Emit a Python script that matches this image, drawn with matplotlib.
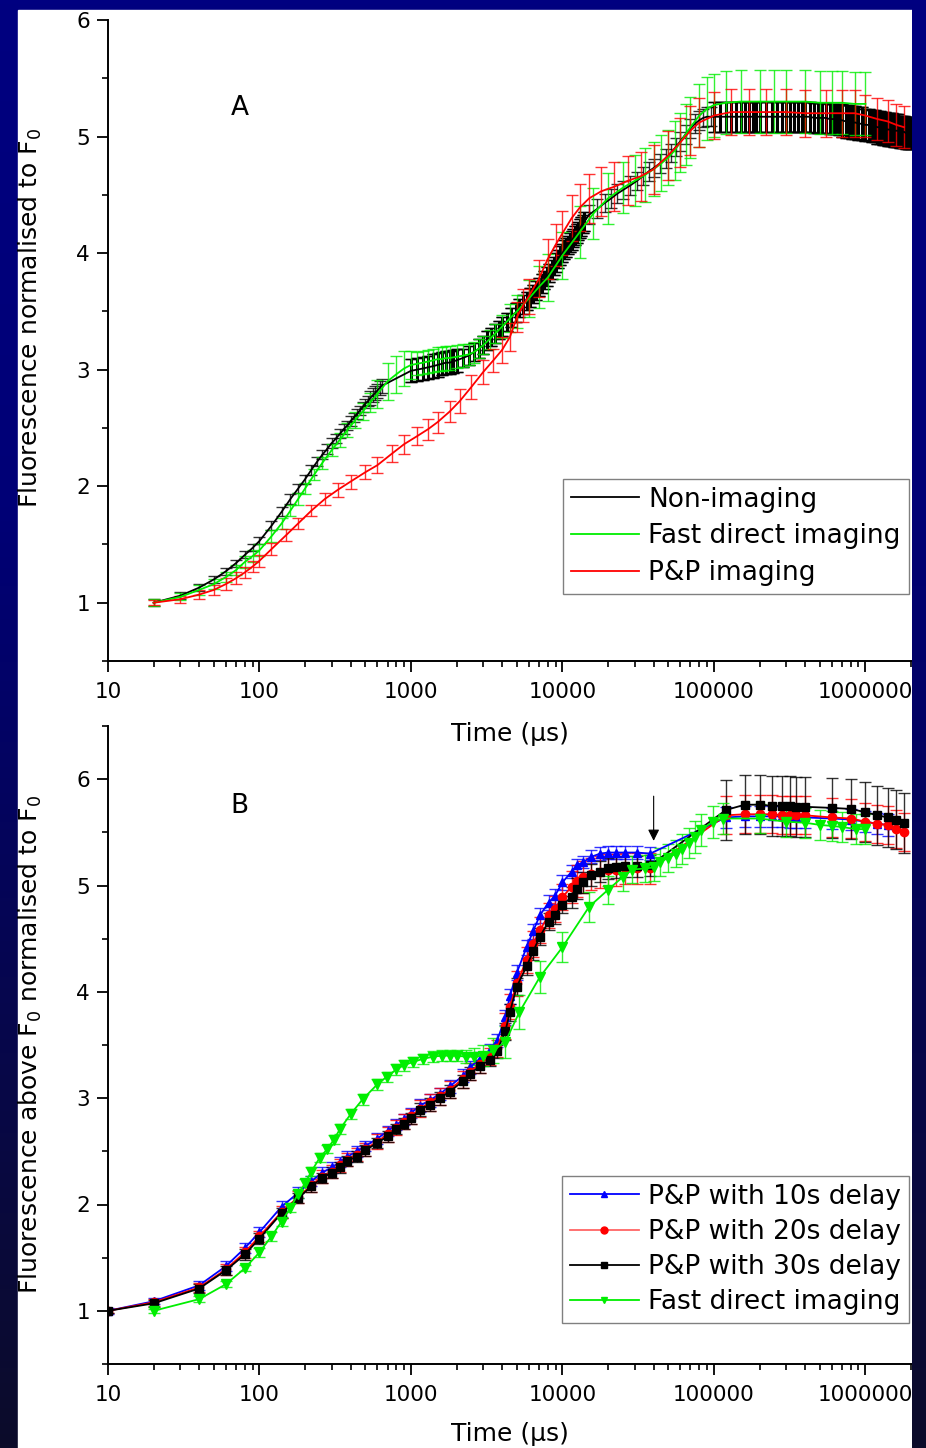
"""
Fluorescence induction curves: A) three acquisition methods, B) P&P delays
"""

import numpy as np
import matplotlib
matplotlib.use('Agg')
from matplotlib import pyplot as plt
from matplotlib.ticker import FixedLocator, LogLocator, NullFormatter, FuncFormatter, MultipleLocator
from matplotlib.patches import Rectangle
from matplotlib.lines import Line2D

plt.rcParams['font.family'] = ['DejaVu Sans']
plt.rcParams['mathtext.fontset'] = 'dejavusans'

x_ticks = [10, 100, 1000, 10000, 100000, 1000000]

# ---------------- panel A data ----------------
t_nonimg = [20, 30, 40, 50, 60, 70, 80, 90, 100, 120, 140, 160, 180, 200, 220, 240, 260, 280,
            300, 320, 340, 360, 380, 400, 420, 440, 460, 480, 500, 520, 540, 560, 580, 600, 620, 640,
            1000, 1100, 1200, 1300, 1400, 1500, 1600, 1700, 1800, 1900, 2000, 2200, 2400, 2600, 2800,
            3000, 3200, 3400, 3600, 3800, 4000, 4300, 4600, 4900, 5200, 5500, 5800, 6100, 6400, 6700,
            7000, 7300, 7600, 7900, 8200, 8500, 8800, 9100, 9400, 9700, 10000, 10300, 10600, 10900,
            11200, 11500, 11800, 12100, 12400, 12700, 13000, 13300, 13600, 13900,
            15000, 17000, 19000, 21000, 23000, 25000, 28000, 31000, 34000, 37000, 40000, 44000, 48000,
            52000, 56000, 60000, 65000, 70000, 75000, 80000, 85000, 90000, 95000,
            100000, 110000, 120000, 130000, 140000, 150000, 160000, 170000, 180000, 190000, 200000,
            220000, 240000, 260000, 280000, 300000, 320000, 340000, 360000, 380000, 400000, 430000,
            460000, 490000, 520000, 550000, 580000, 610000, 640000, 670000, 700000, 740000, 780000,
            820000, 860000, 900000, 950000, 1000000, 1050000, 1100000, 1150000, 1200000, 1250000,
            1300000, 1350000, 1400000, 1450000, 1500000, 1550000, 1600000, 1650000, 1700000, 1750000,
            1800000, 1850000, 1900000, 1950000, 2000000]
y_nonimg = [1.00, 1.06, 1.13, 1.20, 1.27, 1.34, 1.41, 1.47, 1.53, 1.66, 1.78, 1.89, 1.98, 2.06, 2.14,
            2.21, 2.27, 2.32, 2.37, 2.41, 2.45, 2.49, 2.52, 2.56, 2.59, 2.62, 2.65, 2.68, 2.71, 2.73,
            2.76, 2.78, 2.80, 2.82, 2.84, 2.86,
            2.99, 3.00, 3.01, 3.02, 3.03, 3.04, 3.05, 3.06, 3.06, 3.07, 3.08, 3.10, 3.12, 3.15, 3.18,
            3.21, 3.25, 3.28, 3.31, 3.34, 3.37, 3.41, 3.45, 3.49, 3.53, 3.56, 3.59, 3.62, 3.65, 3.68,
            3.71, 3.74, 3.77, 3.80, 3.83, 3.86, 3.89, 3.92, 3.95, 3.98, 4.00, 4.03, 4.05, 4.07, 4.09,
            4.11, 4.13, 4.15, 4.17, 4.19, 4.21, 4.23, 4.25, 4.27,
            4.33, 4.38, 4.43, 4.47, 4.51, 4.54, 4.58, 4.62, 4.66, 4.70, 4.73, 4.77, 4.81, 4.86, 4.91,
            4.96, 5.02, 5.07, 5.11, 5.14, 5.16, 5.17, 5.17,
            5.17, 5.17, 5.17, 5.17, 5.17, 5.17, 5.17, 5.17, 5.17, 5.17, 5.17, 5.17, 5.17, 5.17, 5.17,
            5.17, 5.17, 5.17, 5.17, 5.17, 5.17, 5.17, 5.16, 5.16, 5.16, 5.16, 5.15, 5.15, 5.15, 5.14,
            5.14, 5.13, 5.13, 5.12, 5.12, 5.11, 5.11, 5.10, 5.10, 5.09, 5.09, 5.08, 5.08, 5.07, 5.07,
            5.06, 5.06, 5.06, 5.05, 5.05, 5.05, 5.04, 5.04, 5.04, 5.03, 5.03, 5.03, 5.03]
e_nonimg = [0.03] * 9 + [0.04] * 21 + [0.06] * 6 + [0.10] * 11 + [0.08] * 43 + [0.08] * 23 \
    + [0.13] * 30 + [0.14] * 28

t_fast = [20, 30, 40, 50, 60, 70, 80, 90, 100, 120, 140, 160, 180, 200, 230, 260, 300, 340, 380, 430,
          480, 540, 600, 700, 800, 900, 1000, 1100, 1200, 1300, 1400, 1500, 1600, 1700, 1800, 2000,
          2200, 2400, 2600, 2800, 3000, 3300, 3600, 4000, 4500, 5000, 6000, 7000, 8000, 10000, 13000,
          16000, 20000, 25000, 30000, 35000, 40000, 45000, 50000, 55000, 60000, 65000, 70000, 80000,
          90000, 100000, 120000, 150000, 200000, 250000, 300000, 400000, 500000, 600000, 700000,
          850000, 1000000]
y_fast = [1.00, 1.05, 1.11, 1.16, 1.22, 1.28, 1.35, 1.40, 1.45,
          1.57, 1.68, 1.79, 1.89, 1.98,
          2.10, 2.20, 2.31, 2.40, 2.48, 2.57, 2.64, 2.72, 2.79,
          2.90, 2.96, 3.01, 3.04,
          3.05, 3.06, 3.07, 3.08, 3.09, 3.09, 3.10, 3.10,
          3.11, 3.12, 3.13, 3.15, 3.18, 3.21,
          3.26, 3.31, 3.37, 3.44, 3.50,
          3.61, 3.71, 3.79, 3.98, 4.18, 4.34, 4.47,
          4.56, 4.62, 4.67, 4.72, 4.77, 4.82, 4.88, 4.95, 5.02,
          5.08, 5.18, 5.24, 5.27,
          5.29, 5.30, 5.30, 5.30, 5.30,
          5.30, 5.29, 5.29, 5.29, 5.28, 5.28]
e_fast = [0.03, 0.03, 0.04, 0.04, 0.04, 0.04, 0.05, 0.05, 0.05,
          0.05, 0.05, 0.05, 0.05, 0.05,
          0.05, 0.05, 0.05, 0.06, 0.06, 0.07, 0.07, 0.08, 0.12,
          0.16, 0.16, 0.15, 0.12,
          0.10, 0.10, 0.10, 0.10, 0.10, 0.10, 0.10, 0.10,
          0.10, 0.10, 0.09, 0.09, 0.08, 0.08,
          0.08, 0.08, 0.10, 0.12, 0.14,
          0.16, 0.18, 0.20, 0.20, 0.22, 0.22, 0.22,
          0.22, 0.22, 0.23, 0.23, 0.24, 0.24, 0.25, 0.25, 0.26,
          0.26, 0.27, 0.27, 0.27,
          0.27, 0.27, 0.27, 0.27, 0.27,
          0.27, 0.27, 0.27, 0.27, 0.27, 0.27]

t_pp = [20, 30, 40, 50, 60, 70, 80, 90, 100, 120, 150, 180, 220, 270, 330, 400, 500, 600, 750, 900,
        1100, 1300, 1500, 1800, 2100, 2500, 3000, 3500, 4000, 4500, 5000, 5500, 6000, 7000, 8000,
        9000, 10000, 11500, 13000, 15000, 18000, 22000, 27000, 33000, 40000, 50000, 60000, 70000,
        80000, 100000, 130000, 170000, 220000, 300000, 400000, 550000, 700000, 850000, 1000000,
        1200000, 1400000, 1600000, 1800000]
y_pp = [1.00, 1.03, 1.07, 1.11, 1.16, 1.21, 1.26, 1.31, 1.36,
        1.46, 1.58, 1.68, 1.79, 1.89, 1.97, 2.04, 2.12, 2.18,
        2.28, 2.36, 2.43, 2.49, 2.55, 2.64, 2.73, 2.85, 2.98,
        3.08, 3.17, 3.28, 3.45, 3.55, 3.63, 3.78, 3.95, 4.07, 4.17,
        4.30, 4.39, 4.47, 4.53, 4.57, 4.62, 4.66, 4.72,
        4.84, 4.95, 5.05, 5.12, 5.18,
        5.21, 5.21, 5.21, 5.21, 5.20, 5.20, 5.20, 5.20,
        5.18, 5.15, 5.13, 5.10, 5.08]
e_pp = [0.02, 0.03, 0.04, 0.04, 0.05, 0.05, 0.05, 0.05, 0.05,
        0.05, 0.05, 0.05, 0.05, 0.05, 0.06, 0.06, 0.06, 0.07,
        0.07, 0.08, 0.08, 0.09, 0.09, 0.09, 0.10, 0.10, 0.10,
        0.10, 0.11, 0.12, 0.13, 0.14, 0.15, 0.16, 0.17, 0.18, 0.19,
        0.20, 0.20, 0.21, 0.21, 0.21, 0.21, 0.21, 0.21,
        0.21, 0.21, 0.21, 0.21, 0.20,
        0.20, 0.20, 0.20, 0.20, 0.20, 0.20, 0.20, 0.20,
        0.18, 0.18, 0.18, 0.18, 0.18]

# ---------------- panel B data ----------------
t_delay = [10, 20, 40, 60, 80, 100, 140, 180, 220, 260, 300, 340, 380, 440, 500, 600, 700, 800, 900,
           1000, 1150, 1330, 1550, 1800, 2200, 2450, 2850, 3300, 3700, 4200, 4500, 5000, 5800, 6400,
           7100, 8100, 8900, 10000, 11500, 12500, 13700, 15500, 17700, 20000, 22700, 26000, 31000,
           38000, 120000, 160000, 200000, 240000, 280000, 320000, 350000, 400000, 600000, 800000,
           1000000, 1200000, 1400000, 1600000, 1800000]
t_10s = [10, 20, 40, 60, 80, 100, 140, 180, 220, 260, 300, 340, 380, 440, 500, 600, 700, 800, 900,
         1000, 1150, 1330, 1550, 1800, 2200, 2450, 2850, 3300, 3700, 4200, 4500, 5000, 5800, 6400,
         7100, 8100, 8900, 10000, 11500, 12500, 13700, 15500, 17700, 20000, 22700, 26000, 31000,
         38000, 120000, 160000, 200000, 240000, 280000, 320000, 350000, 400000, 600000, 800000,
         1000000, 1200000, 1400000]
y_10s = [1.00, 1.09, 1.24, 1.42, 1.59, 1.74,
         1.98, 2.11, 2.22, 2.30, 2.35, 2.40, 2.45, 2.50, 2.55,
         2.62, 2.69, 2.75, 2.80, 2.86,
         2.93, 2.98, 3.04, 3.11, 3.21, 3.29, 3.37, 3.45, 3.54,
         3.76, 3.96, 4.18, 4.42, 4.57, 4.72, 4.84, 4.90, 5.03,
         5.13, 5.19, 5.22, 5.27, 5.30, 5.31, 5.31, 5.31, 5.31, 5.30,
         5.64, 5.65, 5.65, 5.65, 5.65, 5.64, 5.64, 5.64, 5.63, 5.62, 5.60, 5.58, 5.57]
e_10s = [0.03, 0.03, 0.04, 0.05, 0.05, 0.05] + [0.05] * 14 + [0.06] * 9 + [0.07] * 9 \
    + [0.06] * 10 + [0.10] * 13
y_20s = [1.00, 1.08, 1.22, 1.39, 1.55, 1.70,
         1.93, 2.07, 2.18, 2.26, 2.31, 2.37, 2.42, 2.47, 2.52,
         2.59, 2.66, 2.72, 2.78, 2.83,
         2.90, 2.96, 3.02, 3.08, 3.18, 3.25, 3.32, 3.39, 3.47,
         3.68, 3.86, 4.08, 4.30, 4.45, 4.58, 4.72, 4.78, 4.89,
         4.99, 5.04, 5.08, 5.11, 5.13, 5.15, 5.15, 5.16, 5.16, 5.16,
         5.66, 5.67, 5.67, 5.67, 5.66, 5.66, 5.66, 5.66, 5.64, 5.63, 5.60, 5.58, 5.57, 5.53, 5.50]
e_20s = [0.02, 0.03, 0.04, 0.05, 0.05, 0.05] + [0.06] * 9 + [0.07] * 5 + [0.08] * 9 \
    + [0.12] * 9 + [0.15] * 10 + [0.18] * 15
y_30s = [1.00, 1.07, 1.21, 1.38, 1.53, 1.68,
         1.92, 2.06, 2.17, 2.25, 2.30, 2.35, 2.41, 2.45, 2.51,
         2.58, 2.64, 2.71, 2.76, 2.81,
         2.89, 2.94, 3.00, 3.06, 3.16, 3.23, 3.30, 3.36, 3.44,
         3.63, 3.81, 4.05, 4.24, 4.38, 4.52, 4.66, 4.72, 4.82,
         4.89, 4.97, 5.03, 5.10, 5.13, 5.16, 5.17, 5.18, 5.18, 5.19,
         5.71, 5.76, 5.76, 5.75, 5.75, 5.75, 5.74, 5.74, 5.73, 5.72, 5.69, 5.66, 5.64, 5.62, 5.59]
e_30s = [0.02, 0.03, 0.04, 0.04, 0.05, 0.05] + [0.05] * 14 + [0.06] * 9 + [0.08] * 9 \
    + [0.10] * 10 + [0.28] * 15

t_fast_b = [20, 40, 60, 80, 100, 120, 140, 160, 180, 200, 220, 250, 280, 310, 340, 400, 480, 600, 690,
            800, 900, 1030, 1200, 1400, 1600, 1800, 2000, 2300, 2600, 3000, 3500, 4200, 5200, 7100,
            10000, 15000, 20000, 25000, 29000, 35000, 40000, 44000, 50000, 56000, 62000, 68000, 75000,
            82000, 98000, 115000, 200000, 300000, 400000, 500000, 600000, 700000, 870000, 1000000]
y_fast_b = [1.00, 1.11, 1.25, 1.40, 1.55, 1.70, 1.84, 1.97, 2.10, 2.20, 2.31,
            2.44, 2.52, 2.61, 2.71, 2.85, 2.99, 3.13, 3.20, 3.27, 3.31, 3.34,
            3.37, 3.39, 3.40, 3.40, 3.40, 3.39, 3.39, 3.40, 3.45, 3.53, 3.81,
            4.14, 4.42, 4.80, 4.96, 5.08, 5.15, 5.16, 5.17, 5.22, 5.26,
            5.30, 5.34, 5.40, 5.46, 5.52, 5.60, 5.63,
            5.63, 5.60, 5.59, 5.57, 5.56, 5.55, 5.53, 5.53]
e_fast_b = [0.02, 0.03, 0.03, 0.03, 0.04, 0.04, 0.04, 0.04, 0.04, 0.04, 0.04,
            0.04, 0.04, 0.04, 0.05, 0.05, 0.05, 0.05, 0.05, 0.05, 0.05, 0.05,
            0.05, 0.05, 0.05, 0.05, 0.05, 0.06, 0.08, 0.10, 0.12, 0.15, 0.16,
            0.15, 0.14, 0.14, 0.13, 0.13, 0.13, 0.13, 0.13, 0.13, 0.13,
            0.13, 0.14, 0.14, 0.15, 0.15, 0.15, 0.15,
            0.14, 0.14, 0.14, 0.14, 0.14, 0.14, 0.14, 0.14]

arrow_t = 40000

W, H = 926, 1448
fig = plt.figure(figsize=(W / 100, H / 100), dpi=100)

# navy slide background with white panel
frac = np.linspace(0, 1, 400)
blue_c = np.interp(frac, [0, 0.35, 1], [128, 118, 42]) / 255
rg_c = np.interp(frac, [0, 0.35, 1], [0, 0, 12]) / 255
grad = np.stack([rg_c, rg_c, blue_c], axis=-1)[:, None, :]

bg = fig.add_axes([0, 0, 1, 1], zorder=-10)
bg.imshow(grad, aspect='auto', extent=[0, 1, 0, 1], origin='upper')
bg.add_patch(Rectangle((18 / W, 0), (912 - 18) / W, (H - 10) / H, color='white',
                       transform=bg.transAxes))
bg.set_xlim(0, 1)
bg.set_ylim(0, 1)
bg.axis('off')

strip = fig.add_axes([912 / W, 0, 1 - 912 / W, 1], zorder=10)
strip.imshow(grad, aspect='auto', extent=[0, 1, 0, 1], origin='upper')
strip.axis('off')

ax1 = fig.add_axes([108 / W, 1 - 661 / H, 804 / W, 641 / H])
ax2 = fig.add_axes([108 / W, 1 - 1364 / H, 804 / W, 638 / H])


def style(ax, ymax):
    ax.set_facecolor('none')
    ax.set_xscale('log')
    ax.set_xlim(10, 2.03e6)
    ax.set_ylim(0.5, ymax)
    for s in ['top', 'right']:
        ax.spines[s].set_visible(False)
    for s in ['left', 'bottom']:
        ax.spines[s].set_linewidth(1.4)
    ax.xaxis.set_major_locator(FixedLocator(x_ticks))
    ax.xaxis.set_major_formatter(FuncFormatter(lambda v, p: f'{v:.0f}'))
    ax.xaxis.set_minor_locator(LogLocator(base=10, subs=np.arange(2, 10), numticks=20))
    ax.xaxis.set_minor_formatter(NullFormatter())
    ax.yaxis.set_major_locator(MultipleLocator(1))
    ax.yaxis.set_minor_locator(MultipleLocator(0.5))
    ax.yaxis.set_major_formatter(FuncFormatter(lambda v, p: f'{v:.0f}'))
    ax.tick_params(which='major', length=8, width=1.3, labelsize=15.5)
    ax.tick_params(which='minor', length=4, width=1.2)
    ax.tick_params(axis='x', which='major', pad=7)
    ax.tick_params(axis='y', which='major', pad=5)
    ax.set_xlabel('Time (µs)', fontsize=18)


def ebar(ax, t, y, e, color, **kw):
    line, caps, bars = ax.errorbar(t, y, yerr=e, color=color, lw=1.3, elinewidth=1, capsize=4,
                                   capthick=1, **kw)
    for c in caps:
        c.set_alpha(0.8)
    for b in bars:
        b.set_alpha(0.8)
    return line


# --- Panel A ---
style(ax1, 6)
ebar(ax1, t_nonimg, y_nonimg, e_nonimg, 'black')
# densely sampled stretches read as a solid band
for a, b in [(36, 90), (113, len(t_nonimg))]:
    ax1.errorbar(t_nonimg[a:b], y_nonimg[a:b], yerr=e_nonimg[a:b], fmt='none', ecolor='black',
                 elinewidth=2.2, capsize=4, capthick=1)
ebar(ax1, t_fast, y_fast, e_fast, '#00ee00')
ebar(ax1, t_pp, y_pp, e_pp, '#ff0000')
ax1.set_ylabel('Fluorescence normalised to F$_0$', fontsize=18)
ax1.yaxis.set_label_coords(-0.08, 0.535)
ax1.xaxis.set_label_coords(0.5, -0.095)
ax1.text(0.164, 0.863, 'A', transform=ax1.transAxes, fontsize=19, ha='center', va='center')

h1 = [Line2D([], [], color='black', lw=1.3),
      Line2D([], [], color='#00ee00', lw=1.3),
      Line2D([], [], color='#ff0000', lw=1.3)]
leg1 = ax1.legend(h1, ['Non-imaging', 'Fast direct imaging', 'P&P imaging'],
                  loc='lower right', bbox_to_anchor=(0.996, 0.105), borderaxespad=0,
                  fontsize=19, fancybox=False, edgecolor='#808080', framealpha=1,
                  handlelength=2.6, handletextpad=0.35, labelspacing=0.4, borderpad=0.3)
leg1.get_frame().set_linewidth(1)

# --- Panel B ---
style(ax2, 6.5)
ebar(ax2, t_10s, y_10s, e_10s, '#0000ff', marker='^', ms=6)
ebar(ax2, t_delay, y_20s, e_20s, '#ff0000', marker='o', ms=6)
ebar(ax2, t_delay, y_30s, e_30s, 'black', marker='s', ms=6)
ebar(ax2, t_fast_b, y_fast_b, e_fast_b, '#00ee00', marker='v', ms=7)
ax2.annotate('', xy=(arrow_t, 5.42), xytext=(arrow_t, 5.84),
             arrowprops=dict(arrowstyle='-|>', color='black', lw=0.8, mutation_scale=17,
                             shrinkA=0, shrinkB=0))
ax2.set_ylabel('Fluorescence above F$_0$ normalised to F$_0$', fontsize=18)
ax2.yaxis.set_label_coords(-0.08, 0.5)
ax2.xaxis.set_label_coords(0.5, -0.091)
ax2.text(0.164, 0.875, 'B', transform=ax2.transAxes, fontsize=19, ha='center', va='center')

h2 = [Line2D([], [], color='#0000ff', lw=1.3, marker='^', ms=5),
      Line2D([], [], color='#ff6666', lw=1.3, marker='o', ms=5, mfc='#ff0000', mec='#ff0000'),
      Line2D([], [], color='black', lw=1.3, marker='s', ms=4.5),
      Line2D([], [], color='#00ee00', lw=1.3, marker='v', ms=5)]
leg2 = ax2.legend(h2, ['P&P with 10s delay', 'P&P with 20s delay', 'P&P with 30s delay',
                       'Fast direct imaging'],
                  loc='lower right', bbox_to_anchor=(0.996, 0.064), borderaxespad=0,
                  fontsize=19, fancybox=False, edgecolor='#808080', framealpha=1,
                  handlelength=2.6, handletextpad=0.35, labelspacing=0.35, borderpad=0.3)
leg2.get_frame().set_linewidth(1)

fig.savefig('out.png', dpi=100)
